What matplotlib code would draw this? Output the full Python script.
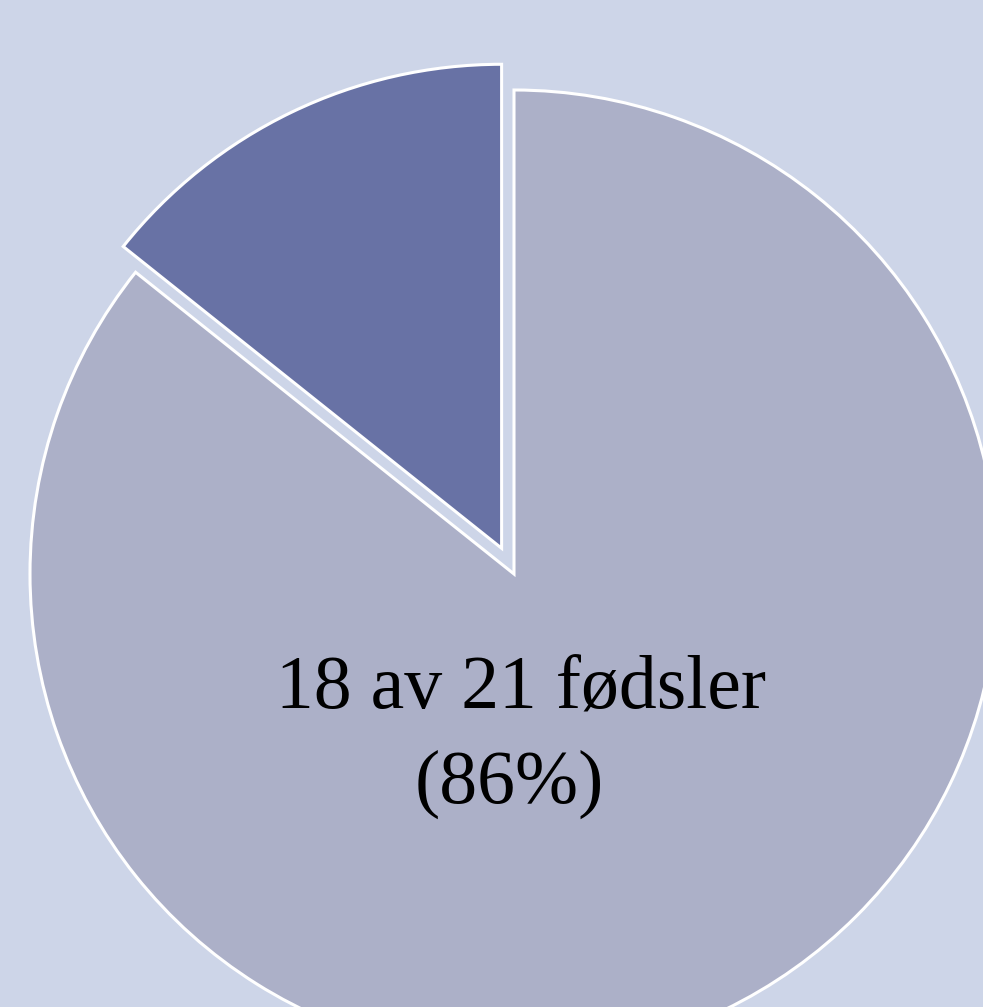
import matplotlib.pyplot as plt

# data
labels = ['18 av 21 fødsler', 'Andre']
values = [18, 3]
colors = ['#acb0c8', '#6872a5']
explode = [0, 0.059]
label_lines = ['18 av 21 fødsler', '(86%)']

W, H = 983, 1007
cx, cy, r = 514, 574, 484   # pie centre and radius in pixels

fig = plt.figure(figsize=(W / 100, H / 100), dpi=100)
fig.patch.set_facecolor('#cdd5e8')
ax = fig.add_axes([0, 0, 1, 1])
ax.set_facecolor('#cdd5e8')

ax.pie(values, colors=colors, explode=explode, startangle=90, counterclock=False,
       radius=1, wedgeprops=dict(edgecolor='white', linewidth=2.2))

# one data unit = r pixels
ax.set_aspect('auto')
ax.set_xlim(-cx / r, (W - cx) / r)
ax.set_ylim(-(H - cy) / r, cy / r)
ax.axis('off')

# label, two lines
ax.text((521 - cx) / r, (cy - 709) / r, label_lines[0], ha='center', va='baseline',
        fontsize=54.5, family='Liberation Serif', color='black')
ax.text((509 - cx) / r, (cy - 803) / r, label_lines[1], ha='center', va='baseline',
        fontsize=54.5, family='Liberation Serif', color='black')

fig.savefig('out.png', dpi=100, facecolor=fig.get_facecolor())
